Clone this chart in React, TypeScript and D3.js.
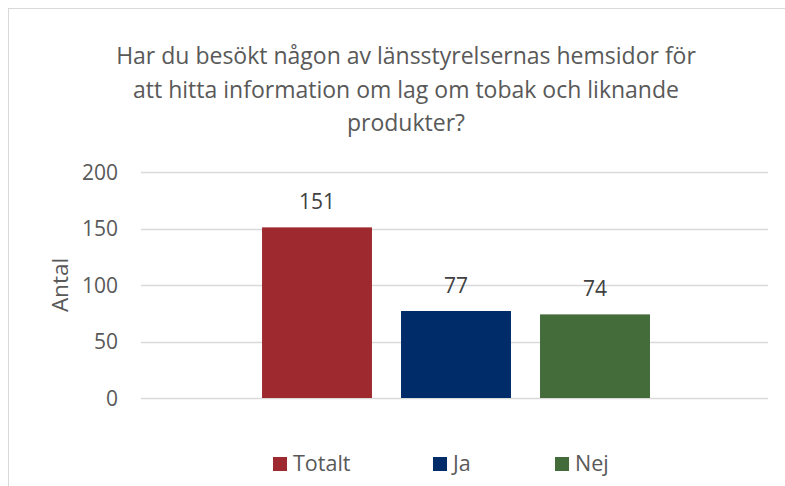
import React, { useLayoutEffect } from "react";
import * as d3 from "d3";

const titleLines = [
  "Har du besökt någon av länsstyrelsernas hemsidor för",
  "att hitta information om lag om tobak och liknande",
  "produkter?",
];
const series = ["Totalt", "Ja", "Nej"];
const values = [151, 77, 74];
const colors = ["#9e2a2f", "#002d6a", "#436c3a"];
const yTicks = [0, 50, 100, 150, 200];
const yLabel = "Antal";

const W = 785;
const H = 486;
const FONT = "'Open Sans', 'Segoe UI', sans-serif";

export default function App() {
  useLayoutEffect(() => {
    document.body.style.margin = "0";
    document.body.style.overflow = "hidden";
  }, []);

  const plotLeft = 141;
  const plotRight = 768;
  const y = d3.scaleLinear().domain([0, 200]).range([398, 172]);
  const x = d3
    .scaleBand<string>()
    .domain(series)
    .range([247.5, 664.5])
    .paddingInner(0.209)
    .paddingOuter(0.1045);

  const legendX = [273, 433, 555];

  return (
    <svg width={W} height={H} style={{ display: "block", background: "#fff" }} fontFamily={FONT}>
      <rect x={8.5} y={8.5} width={W + 20} height={H + 20} fill="#fff" stroke="#d9d9d9" strokeWidth={1} />
      <g fill="#595959" fontSize={23} textAnchor="middle">
        {titleLines.map((t, i) => (
          <text key={i} x={406} y={64 + i * 33.5}>
            {t}
          </text>
        ))}
      </g>
      <g>
        {yTicks.map((t) => (
          <g key={t}>
            <line x1={plotLeft} x2={plotRight} y1={Math.round(y(t)) + 0.5} y2={Math.round(y(t)) + 0.5} stroke="#d9d9d9" strokeWidth={1.3} />
            <text x={118} y={y(t) + 7.5} textAnchor="end" fontSize={21} fill="#595959">
              {t}
            </text>
          </g>
        ))}
      </g>
      <text
        transform={`translate(68, ${285}) rotate(-90)`}
        textAnchor="middle"
        fontSize={22.5}
        fill="#595959"
      >
        {yLabel}
      </text>
      <g>
        {series.map((s, i) => (
          <g key={s}>
            <rect x={x(s)} y={y(values[i])} width={x.bandwidth()} height={y(0) - y(values[i])} fill={colors[i]} />
            <text x={(x(s) as number) + x.bandwidth() / 2} y={y(values[i]) - 18} textAnchor="middle" fontSize={21} fill="#404040">
              {values[i]}
            </text>
          </g>
        ))}
      </g>
      <g>
        {series.map((s, i) => (
          <g key={s}>
            <rect x={legendX[i]} y={457} width={14} height={14} fill={colors[i]} />
            <text x={legendX[i] + 20} y={471} fontSize={21.5} fill="#595959">
              {s}
            </text>
          </g>
        ))}
      </g>
    </svg>
  );
}
